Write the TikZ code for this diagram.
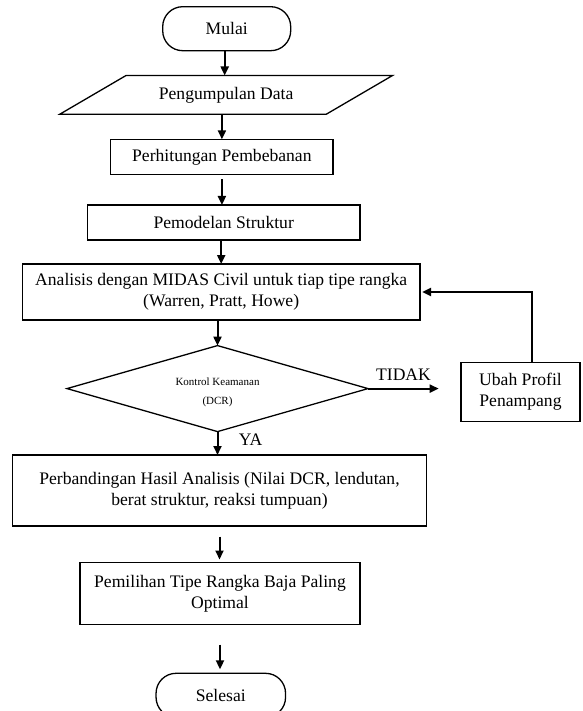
\documentclass[tikz,border=0pt]{standalone}
\usepackage{fontspec}
\setmainfont{Liberation Serif}
\usetikzlibrary{arrows.meta,shapes.geometric}
\newcommand\bigtxt{\fontsize{17.6}{20.7}\selectfont}
\newcommand\smalltxt{\fontsize{11}{19}\selectfont}
\tikzset{
  box/.style={draw, line width=1.3pt, rectangle, inner sep=0pt, outer sep=0pt, align=center, font=\bigtxt},
  term/.style={box, rounded corners=20pt},
  lbl/.style={inner sep=0pt, outer sep=0pt, font=\bigtxt},
  flow/.style={line width=2pt, -{Triangle[length=9pt,width=8pt]}},
  flowthick/.style={line width=2.7pt, -{Triangle[length=9pt,width=8pt]}},
  dec/.style={draw, diamond, shape aspect=3.5, line width=1.3pt, inner sep=0pt, outer sep=0pt, align=center, font=\smalltxt}
}
\begin{document}
\begin{tikzpicture}[x=1pt,y=-1pt]
\useasboundingbox (0,0) rectangle (582,711);
\clip (0,0) rectangle (582,711);
\fill[white] (0,0) rectangle (582,711);

% nodes
\node[term, minimum width=128pt, minimum height=44pt] (mulai) at (226.7,28.7) {Mulai};
\node[lbl, minimum width=266.5pt, minimum height=38.8pt] (data) at (226.1,94.9) {Pengumpulan Data};
\draw[line width=1.3pt] ([xshift=33.2pt]data.north west) -- ([xshift=33.2pt]data.north east)
  -- ([xshift=-33.2pt]data.south east) -- ([xshift=-33.2pt]data.south west) -- cycle;
\node[box, minimum width=222.2pt, minimum height=35.2pt] (perh) at (221.9,156.9) {Perhitungan Pembebanan};
\node[box, minimum width=272.6pt, minimum height=35pt] (pemod) at (223.7,222.5) {Pemodelan Struktur};
\node[box, minimum width=397.7pt, minimum height=56pt] (anal) at (221.2,292) {Analisis dengan MIDAS Civil untuk tiap tipe rangka\\(Warren, Pratt, Howe)};
\node[dec, minimum width=301pt, minimum height=86pt] (dia) at (217.5,388.6) {};
\node[inner sep=0pt, align=center, font=\smalltxt] (diatxt) at (217.5,392) {Kontrol Keamanan\\(DCR)};
\node[box, minimum width=119pt, minimum height=59.4pt] (ubah) at (520.5,392) {Ubah Profil\\Penampang};
\node[box, minimum width=414.5pt, minimum height=71pt] (perb) at (219.5,490.5) {Perbandingan Hasil Analisis (Nilai DCR, lendutan,\\berat struktur, reaksi tumpuan)};
\node[box, minimum width=280pt, minimum height=62pt] (pemil) at (220,593.5) {Pemilihan Tipe Rangka Baja Paling\\Optimal};
\node[term, minimum width=129.5pt, minimum height=44pt] (selesai) at (220.8,695.3) {Selesai};

% labels
\node[lbl] (tidak) at (403.5,375) {TIDAK};
\node[lbl] (ya) at (250.5,440) {YA};

% connectors
\draw[flow] ([xshift=-2pt]mulai.south) -- ([xshift=-2pt]mulai.south |- data.north);
\draw[flow] (perh.north |- data.south) -- (perh.north);
\draw[flow] ([yshift=-5pt]perh.south) -- (perh.south |- pemod.north);
\draw[flow] (pemod.south -| anal.north) -- (anal.north);
\draw[flow] (anal.south -| dia.north) -- (dia.north);
\draw[flow] (dia.south) -- (dia.south |- perb.north);
\draw[flow] ([yshift=-10.5pt]perb.south) -- ([yshift=3pt]perb.south |- pemil.north);
\draw[flow] ([yshift=-20pt]pemil.south) -- ([yshift=4pt]pemil.south |- selesai.north);
\coordinate (tidakend) at (438.7,388.6);
\draw[flow] (dia.east) -- (tidakend);
\coordinate (fbtop) at (532,292);
\draw[flowthick] (ubah.north -| fbtop) -- (fbtop) -- ([xshift=2pt]anal.east);
\end{tikzpicture}
\end{document}
